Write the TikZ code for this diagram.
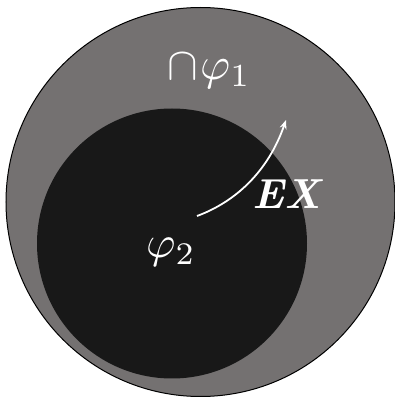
\documentclass[tikz,border=0pt]{standalone}
\usetikzlibrary{arrows.meta}
\definecolor{outergray}{HTML}{747171}
\definecolor{innerdark}{HTML}{181818}
\tikzset{
  lbl/.style={text=white, inner sep=0pt},
  arr/.style={draw=white, line width=1.8pt, -{Stealth[length=9pt,width=7pt]}}
}
\begin{document}
\begin{tikzpicture}[x=1pt,y=1pt]
\useasboundingbox (0,0) rectangle (395,397);
\fill[white] (0,0) rectangle (395,397);
\node[circle, draw=black, line width=1pt, fill=outergray, minimum size=389pt, inner sep=0pt] (outer) at (200.5,195) {};
\node[circle, fill=innerdark, minimum size=270pt, inner sep=0pt] (inner) at (172,153.5) {};
\node[lbl, scale=4.6] (phi1) at (209,326) {$\cap\mkern1mu\varphi_1$};
\node[lbl, scale=4.2] (ex) at (288,203) {\textbf{\textit{EX}}};
\node[lbl, scale=4.5] (phi2) at (171,145) {$\varphi_2$};
\coordinate (s) at (197,181);
\coordinate (e) at (286,277);
\draw[arr] (s) .. controls (235,195) and (268,225) .. (e);
\end{tikzpicture}
\end{document}
